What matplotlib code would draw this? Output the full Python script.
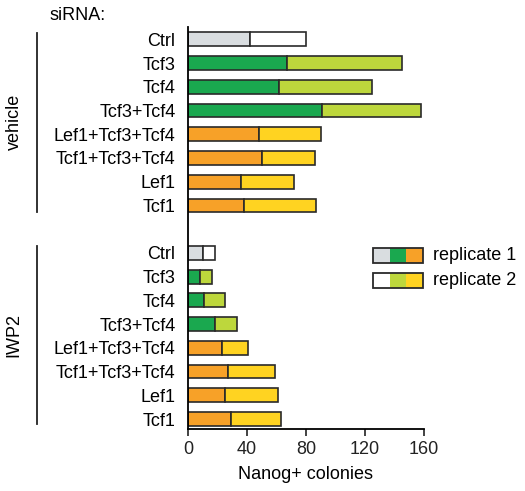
import matplotlib.pyplot as plt
from matplotlib.patches import Rectangle
from matplotlib.lines import Line2D

plt.rcParams['font.family'] = ['Liberation Sans', 'DejaVu Sans']

# knockdowns, top to bottom within each treatment group
sirna = ['Ctrl', 'Tcf3', 'Tcf4', 'Tcf3+Tcf4', 'Lef1+Tcf3+Tcf4',
         'Tcf1+Tcf3+Tcf4', 'Lef1', 'Tcf1']

# Nanog+ colonies, replicate 1 and replicate 2 (stacked)
vehicle_rep1 = [42, 67, 62, 91, 48, 50, 36, 38]
vehicle_rep2 = [38, 78, 63, 67, 42, 36, 36, 49]
iwp2_rep1 = [10, 8, 11, 18, 23, 27, 25, 29]
iwp2_rep2 = [8, 8, 14, 15, 18, 32, 36, 34]

rep1_colors = ['#d9dde0', '#1aa84f', '#1aa84f', '#1aa84f',
               '#f7a128', '#f7a128', '#f7a128', '#f7a128']
rep2_colors = ['#ffffff', '#bdd73c', '#bdd73c', '#bdd73c',
               '#ffd321', '#ffd321', '#ffd321', '#ffd321']

edge = '#2a2a2a'
fs = 13

fig = plt.figure(figsize=(5.25, 4.91), dpi=100)
ax = fig.add_axes([188 / 525, 1 - 429 / 491, 236 / 525, 402 / 491])

n = len(sirna)
ypos_vehicle = list(range(n))
ypos_iwp2 = [i + n + 1 for i in range(n)]

for ypos, r1, r2 in [(ypos_vehicle, vehicle_rep1, vehicle_rep2),
                     (ypos_iwp2, iwp2_rep1, iwp2_rep2)]:
    ax.barh(ypos, r1, height=0.58, color=rep1_colors, edgecolor=edge, linewidth=1.2)
    ax.barh(ypos, r2, left=r1, height=0.58, color=rep2_colors, edgecolor=edge, linewidth=1.2)

ax.set_xlim(0, 160)
ax.set_ylim(16.42, -0.52)
ax.set_xticks([0, 40, 80, 120, 160])
ax.set_yticks(ypos_vehicle + ypos_iwp2)
ax.set_yticklabels(sirna + sirna)
ax.tick_params(axis='y', length=0, pad=9, labelsize=fs)
ax.tick_params(axis='x', length=5, width=1.2, labelsize=fs, colors='#222222')
ax.spines['top'].set_visible(False)
ax.spines['right'].set_visible(False)
ax.spines['left'].set_linewidth(1.3)
ax.spines['bottom'].set_linewidth(1.3)
ax.set_xlabel('Nanog+ colonies', fontsize=fs, labelpad=6)

# treatment group brackets and labels
fig.add_artist(Line2D([37 / 525, 37 / 525], [1 - 33 / 491, 1 - 212 / 491],
                      color='#222222', lw=1.3))
fig.add_artist(Line2D([37 / 525, 37 / 525], [1 - 246 / 491, 1 - 424 / 491],
                      color='#222222', lw=1.3))
fig.text(14 / 525, 1 - 122 / 491, 'vehicle', rotation=90, fontsize=fs,
         ha='center', va='center')
fig.text(14 / 525, 1 - 335 / 491, 'IWP2', rotation=90, fontsize=fs,
         ha='center', va='center')
fig.text(50 / 525, 1 - 15 / 491, 'siRNA:', fontsize=fs, ha='left', va='center')

# legend: one box per replicate, split into the three color families
legend_rows = [('replicate 1', ['#d9dde0', '#1aa84f', '#f7a128'], 248),
               ('replicate 2', ['#ffffff', '#bdd73c', '#ffd321'], 273)]
x0, x1 = 373, 423
seg_w = (x1 - x0) / 3
box_h = 15
for label, cols, top in legend_rows:
    for k, c in enumerate(cols):
        fig.add_artist(Rectangle(((x0 + k * seg_w) / 525, 1 - (top + box_h) / 491),
                                 seg_w / 525, box_h / 491, facecolor=c,
                                 edgecolor='none'))
    fig.add_artist(Rectangle((x0 / 525, 1 - (top + box_h) / 491),
                             (x1 - x0) / 525, box_h / 491, facecolor='none',
                             edgecolor=edge, lw=1.3))
    fig.text(433 / 525, 1 - (top + box_h / 2) / 491, label, fontsize=fs,
             ha='left', va='center')

fig.savefig('out.png', dpi=100)
